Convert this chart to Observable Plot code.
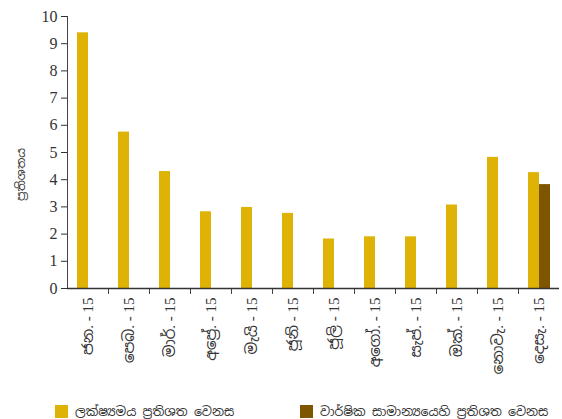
<!DOCTYPE html>
<html><head><meta charset="utf-8">
<script src="https://cdn.jsdelivr.net/npm/d3@7"></script>
<script src="https://cdn.jsdelivr.net/npm/@observablehq/plot@0.6"></script>
<style>
body{margin:0;background:#fff;}
#chart svg{display:block;}
#legend{position:relative;height:27px;font-family:"Noto Sans Sinhala","Noto Sans",sans-serif;font-size:12.5px;color:#333;}
.item{position:absolute;top:11px;display:flex;align-items:center;white-space:nowrap;}
.sw{width:13px;height:13px;margin-right:7px;}
</style></head><body>
<div id="chart"></div>
<div id="legend"></div>
<script>
const months = ["ජන.","පෙබ.","මාර්.","අප්‍රේ.","මැයි","ජූනි","ජූලි","අගෝ.","සැප්.","ඔක්.","නොවැ.","දෙසැ."];
const year = "15";
const pointChange = [9.4, 5.75, 4.3, 2.82, 2.98, 2.76, 1.82, 1.9, 1.9, 3.07, 4.82, 4.26];
const annualAvgChange = [null, null, null, null, null, null, null, null, null, null, null, 3.82];
const seriesNames = ["ලක්ෂ්‍යමය ප්‍රතිශත වෙනස", "වාර්ෂික සාමාන්‍යයෙහි ප්‍රතිශත වෙනස"];
const seriesKeys = ["a", "b"];
const colors = ["#deb306", "#7f5600"];
const yTicks = [0,1,2,3,4,5,6,7,8,9,10];
const yLabel = "ප්‍රතිශතය";

const labels = months.map(m => `${m} - ${year}`);
const rows = [];
labels.forEach((l, i) => {
  rows.push({month: l, series: "a", value: pointChange[i]});
  if (annualAvgChange[i] != null) rows.push({month: l, series: "b", value: annualAvgChange[i]});
});

const W = 562, mL = 63, mR = 0;
const facetW = (W - mL - mR) / labels.length;
const serif = "'Liberation Serif','Noto Sans Sinhala',serif";

const chart = Plot.plot({
  width: W, height: 392,
  marginLeft: mL, marginRight: mR, marginTop: 16, marginBottom: 104,
  style: {background: "#fff", color: "#333"},
  fx: {domain: labels, padding: 0, axis: null, label: null},
  x: {domain: seriesKeys, paddingInner: 0, paddingOuter: 0.733, axis: null},
  y: {domain: [0, 10], axis: null},
  marks: [
    Plot.barY(rows, {fx: "month", x: "series", y: "value", fill: d => colors[seriesKeys.indexOf(d.series)]}),
    Plot.ruleY([0], {stroke: "#333", strokeWidth: 1.5}),
    Plot.rectY([labels[0]], {fx: d => d, y1: 0, y2: 10, insetRight: facetW - 1.5, fill: "#333"}),
    Plot.rectY(labels.slice(1), {fx: d => d, y1: 0, y2: -0.22, insetRight: facetW - 1.5, fill: "#333"}),
    Plot.axisY({ticks: yTicks, tickSize: 6, tickPadding: 4, fontSize: 16, fontFamily: serif, label: null, stroke: "#333"}),
    Plot.axisFx({anchor: "bottom", tickRotate: -90, tickSize: 0, tickPadding: 9, fontSize: 15, fontFamily: serif, label: null}),
    Plot.text([yLabel], {fx: () => labels[0], frameAnchor: "left", textAnchor: "middle", rotate: -90, dx: -46, dy: 22, fontSize: 12, fontFamily: serif, fill: "#333"})
  ]
});
document.getElementById("chart").appendChild(chart);

const legend = document.getElementById("legend");
const lx = [55, 300];
seriesNames.forEach((n, i) => {
  const d = document.createElement("div");
  d.className = "item";
  d.style.left = lx[i] + "px";
  d.innerHTML = `<span class="sw" style="background:${colors[i]}"></span><span>${n}</span>`;
  legend.appendChild(d);
});
</script>
</body></html>
